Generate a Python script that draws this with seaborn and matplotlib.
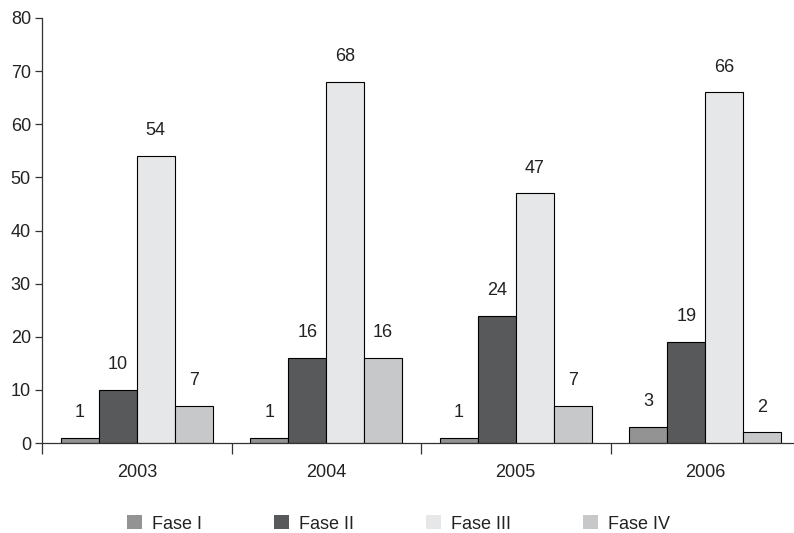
import pandas as pd
import matplotlib.pyplot as plt
import seaborn as sns

years = ['2003', '2004', '2005', '2006']
phases = ['Fase I', 'Fase II', 'Fase III', 'Fase IV']
fase_i = [1, 1, 1, 3]
fase_ii = [10, 16, 24, 19]
fase_iii = [54, 68, 47, 66]
fase_iv = [7, 16, 7, 2]
colors = ['#939393', '#58595b', '#e6e7e8', '#c7c8ca']

rows = []
for name, vals in zip(phases, [fase_i, fase_ii, fase_iii, fase_iv]):
    for y, v in zip(years, vals):
        rows.append({'Year': y, 'Phase': name, 'Value': v})
df = pd.DataFrame(rows)

sns.set_style('white')
plt.rcParams['font.family'] = ['Liberation Sans', 'DejaVu Sans']
fs = 13

fig = plt.figure(figsize=(7.94, 5.33), dpi=100)
ax = fig.add_axes([42 / 794, 90 / 533, 758 / 794, 425 / 533])

sns.barplot(data=df, x='Year', y='Value', hue='Phase', palette=colors,
            order=years, hue_order=phases, width=0.8, edgecolor='black',
            linewidth=0.8, ax=ax, legend=True)

# value labels above bars
for cont in ax.containers:
    ax.bar_label(cont, padding=12, fontsize=fs, color='#222222')

ax.set_ylim(0, 80)
ax.set_xlim(-0.5, 3.5)
ax.set_yticks(range(0, 81, 10))
ax.set_xlabel('')
ax.set_ylabel('')
sns.despine(ax=ax)
for s in ['left', 'bottom']:
    ax.spines[s].set_color('#333333')
    ax.spines[s].set_linewidth(0.9)

ax.tick_params(axis='y', length=5, width=0.9, color='#333333', labelsize=fs,
               labelcolor='#222222', pad=3, left=True)
ax.tick_params(axis='x', which='major', length=0, labelsize=fs,
               labelcolor='#222222', pad=15)
ax.set_xticks([-0.5, 0.5, 1.5, 2.5, 3.5], minor=True)
ax.tick_params(axis='x', which='minor', length=8, width=0.9, color='#333333', bottom=True)

leg = ax.legend(loc='center left', bbox_to_anchor=(127 / 794, 9 / 533),
                bbox_transform=fig.transFigure, ncol=4, frameon=False,
                fontsize=fs, handlelength=0.83, handleheight=0.83,
                columnspacing=4.0, handletextpad=0.55, borderpad=0,
                borderaxespad=0)
for h in leg.legend_handles:
    h.set_edgecolor('none')
for t in leg.get_texts():
    t.set_color('#222222')

fig.savefig('out.png', dpi=100)
